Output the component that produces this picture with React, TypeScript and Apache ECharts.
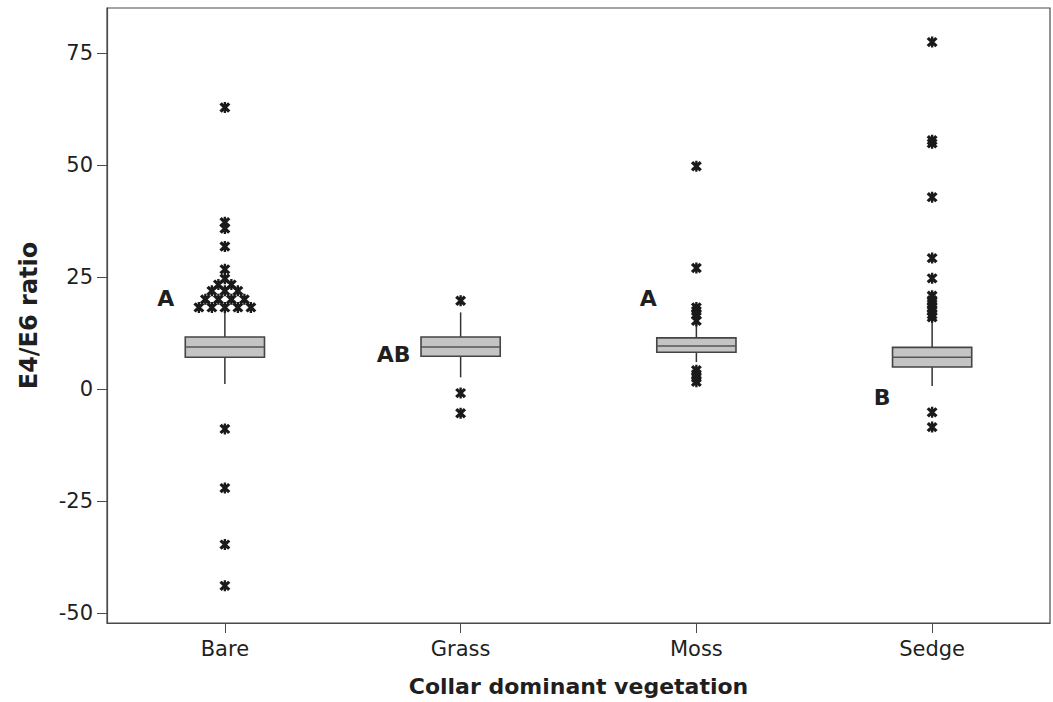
import React, { useEffect, useRef } from "react";
import * as echarts from "echarts";

const categories = ["Bare", "Grass", "Moss", "Sedge"];
const whiskerLow = [1.1, 2.6, 6.0, 0.7];
const q1 = [7.1, 7.3, 8.2, 4.9];
const median = [9.4, 9.4, 9.6, 7.1];
const q3 = [11.6, 11.6, 11.4, 9.3];
const whiskerHigh = [17.3, 17.1, 14.5, 15.2];

const bareOutliers = [
  62.8, 37.2, 35.8, 31.8, 26.7, 24.6, 23.3, 23.3, 21.9, 21.9, 21.9,
  20.0, 20.0, 20.0, 20.0, 18.2, 18.2, 18.2, 18.2, 18.2,
  -8.9, -22.1, -34.7, -43.9,
];
const grassOutliers = [19.7, -0.9, -5.4];
const mossOutliers = [49.7, 27.0, 18.2, 17.4, 16.6, 15.2, 4.2, 3.3, 2.5, 1.6];
const sedgeOutliers = [
  77.4, 55.5, 54.8, 42.8, 29.2, 24.7, 20.8, 19.8, 19.0, 18.2, 17.4, 16.6, 16.0,
  -5.2, -8.5,
];
const outliers = [bareOutliers, grassOutliers, mossOutliers, sedgeOutliers];

const groupLetters = ["A", "AB", "A", "B"];
const letterValues = [20.1, 7.8, 20.1, -1.8];
const letterOffsets = [-59, -67, -48, -50];

const yTicks = [-50, -25, 0, 25, 50, 75];

const STAR =
  "path://M4 0H6V10H4Z M0.3 2.3L2.3 0.3L9.7 7.7L7.7 9.7Z M7.7 0.3L9.7 2.3L2.3 9.7L0.3 7.7Z";

function buildOutlierData() {
  const items: any[] = [];
  outliers.forEach((vals, ci) => {
    const counts: Record<string, number> = {};
    vals.forEach((v) => {
      counts[String(v)] = (counts[String(v)] || 0) + 1;
    });
    const seen: Record<string, number> = {};
    vals.forEach((v) => {
      const key = String(v);
      const n = counts[key];
      const k = seen[key] || 0;
      seen[key] = k + 1;
      const dx = (k - (n - 1) / 2) * 13;
      items.push({ value: [ci, v], symbolOffset: [dx, 0] });
    });
  });
  return items;
}

export default function App() {
  const ref = useRef<HTMLDivElement>(null);
  useEffect(() => {
    if (!ref.current) return;
    const chart = echarts.init(ref.current, undefined, { renderer: "svg" });
    const textColor = "#1f1f1f";
    const lineColor = "#4a4a4a";
    const option: any = {
      animation: false,
      backgroundColor: "#ffffff",
      grid: {
        left: 107,
        right: 3,
        top: 8,
        bottom: 79,
        show: true,
        borderColor: lineColor,
        borderWidth: 1.2,
        containLabel: false,
      },
      xAxis: {
        type: "category",
        data: categories,
        boundaryGap: true,
        name: "Collar dominant vegetation",
        nameLocation: "middle",
        nameGap: 52,
        nameTextStyle: {
          fontFamily: "DejaVu Sans",
          fontWeight: "bold",
          fontSize: 22,
          color: textColor,
        },
        axisLine: { show: true, onZero: false, lineStyle: { color: lineColor, width: 1.2 } },
        axisTick: {
          show: true,
          alignWithLabel: true,
          length: 10,
          lineStyle: { color: lineColor },
        },
        axisLabel: {
          fontFamily: "DejaVu Sans",
          fontSize: 21,
          color: textColor,
          margin: 15,
        },
        splitLine: { show: false },
      },
      yAxis: {
        type: "value",
        min: -52.2,
        max: 85,
        name: "E4/E6 ratio",
        nameLocation: "middle",
        nameGap: 66,
        nameTextStyle: {
          fontFamily: "DejaVu Sans",
          fontWeight: "bold",
          fontSize: 24,
          color: textColor,
        },
        axisLine: { show: true, onZero: false, lineStyle: { color: lineColor, width: 1.2 } },
        axisTick: {
          show: true,
          length: 10,
          customValues: yTicks,
          lineStyle: { color: lineColor },
        },
        axisLabel: {
          fontFamily: "DejaVu Sans",
          fontSize: 21,
          color: textColor,
          margin: 14,
          customValues: yTicks,
        },
        splitLine: { show: false },
      },
      series: [
        {
          type: "custom",
          name: "box",
          data: categories.map((_, i) => [
            i,
            whiskerLow[i],
            q1[i],
            median[i],
            q3[i],
            whiskerHigh[i],
          ]),
          encode: { x: 0, y: [1, 2, 3, 4, 5] },
          renderItem: (params: any, api: any) => {
            const i = api.value(0);
            const lo = api.coord([i, api.value(1)]);
            const b1 = api.coord([i, api.value(2)]);
            const md = api.coord([i, api.value(3)]);
            const b3 = api.coord([i, api.value(4)]);
            const hi = api.coord([i, api.value(5)]);
            const band = api.size([1, 0])[0];
            const hw = band * 0.168;
            const cx = md[0];
            const ls = { stroke: "#333333", lineWidth: 1.5 };
            return {
              type: "group",
              children: [
                { type: "line", shape: { x1: cx, y1: lo[1], x2: cx, y2: b1[1] }, style: ls },
                { type: "line", shape: { x1: cx, y1: b3[1], x2: cx, y2: hi[1] }, style: ls },
                {
                  type: "rect",
                  shape: { x: cx - hw, y: b3[1], width: 2 * hw, height: b1[1] - b3[1] },
                  style: { fill: "#c4c4c4", stroke: "#444444", lineWidth: 1.6 },
                },
                {
                  type: "line",
                  shape: { x1: cx - hw, y1: md[1], x2: cx + hw, y2: md[1] },
                  style: { stroke: "#555555", lineWidth: 1.5 },
                },
              ],
            };
          },
          z: 2,
        },
        {
          type: "scatter",
          name: "outliers",
          data: buildOutlierData(),
          symbol: STAR,
          symbolSize: 11,
          itemStyle: { color: "#1a1a1a", opacity: 1 },
          z: 3,
        },
        {
          type: "scatter",
          name: "letters",
          symbolSize: 0,
          itemStyle: { opacity: 1 },
          data: groupLetters.map((l, i) => ({
            value: [i, letterValues[i]],
            label: {
              show: true,
              formatter: l,
              position: "inside",
              offset: [letterOffsets[i], 0],
              fontFamily: "DejaVu Sans",
              fontWeight: "bold",
              fontSize: 22,
              color: textColor,
              opacity: 1,
            },
          })),
          z: 4,
        },
      ],
    };
    chart.setOption(option);
    return () => chart.dispose();
  }, []);
  return (
    <div
      ref={ref}
      style={{ position: "fixed", left: 0, top: 0, width: 1053, height: 702, background: "#fff" }}
    />
  );
}
